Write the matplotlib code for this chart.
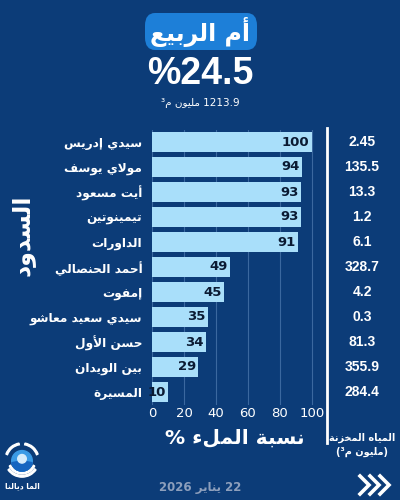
import numpy as np
import matplotlib
matplotlib.use("Agg")
import matplotlib.pyplot as plt
from matplotlib.patches import FancyBboxPatch, Circle, Wedge
from matplotlib.lines import Line2D
import matplotlib.transforms as mtransforms

# Data
dam_names = ['سيدي إدريس', 'مولاي يوسف', 'أيت مسعود', 'تيمينوتين', 'الداورات',
             'أحمد الحنصالي', 'إمفوت', 'سيدي سعيد معاشو', 'حسن الأول',
             'بين الويدان', 'المسيرة']
fill_pct = [100, 94, 93, 93, 91, 49, 45, 35, 34, 29, 10]
stored_mm3 = ['2.45', '135.5', '13.3', '1.2', '6.1', '328.7', '4.2', '0.3',
              '81.3', '355.9', '284.4']
x_ticks = [0, 20, 40, 60, 80, 100]
basin_name = 'أم الربيع'
basin_pct = '24.5'
basin_volume = '1213.9'
date_day, date_month, date_year = '22', 'يناير', '2026'

BG = '#0c3c78'
BAR = '#a9dffa'
GRID = '#3b689f'
TITLE_BOX = '#1d7fd8'

# Arabic shaping (presentation forms) since matplotlib has no bidi/shaping
FORMS = {}
for ch, code in [('ء', 0xFE80)]:
    FORMS[ch] = (chr(code), None, None, None)
for ch, code in [('آ', 0xFE81), ('أ', 0xFE83), ('ؤ', 0xFE85), ('إ', 0xFE87),
                 ('ا', 0xFE8D), ('ة', 0xFE93), ('د', 0xFEA9), ('ذ', 0xFEAB),
                 ('ر', 0xFEAD), ('ز', 0xFEAF), ('و', 0xFEED), ('ى', 0xFEEF)]:
    FORMS[ch] = (chr(code), chr(code + 1), None, None)
for ch, code in [('ئ', 0xFE89), ('ب', 0xFE8F), ('ت', 0xFE95), ('ث', 0xFE99),
                 ('ج', 0xFE9D), ('ح', 0xFEA1), ('خ', 0xFEA5), ('س', 0xFEB1),
                 ('ش', 0xFEB5), ('ص', 0xFEB9), ('ض', 0xFEBD), ('ط', 0xFEC1),
                 ('ظ', 0xFEC5), ('ع', 0xFEC9), ('غ', 0xFECD), ('ف', 0xFED1),
                 ('ق', 0xFED5), ('ك', 0xFED9), ('ل', 0xFEDD), ('م', 0xFEE1),
                 ('ن', 0xFEE5), ('ه', 0xFEE9), ('ي', 0xFEF1)]:
    FORMS[ch] = tuple(chr(code + k) for k in range(4))
LAMALEF = {'آ': ('\uFEF5', '\uFEF6'), 'أ': ('\uFEF7', '\uFEF8'),
           'إ': ('\uFEF9', '\uFEFA'), 'ا': ('\uFEFB', '\uFEFC')}


def ar(text):
    chars = list(text)
    out = []
    i = 0
    while i < len(chars):
        c = chars[i]
        if c not in FORMS:
            out.append(c)
            i += 1
            continue
        prev = chars[i - 1] if i > 0 else None
        prev_joins = prev in FORMS and FORMS[prev][2] is not None
        if c == 'ل' and i + 1 < len(chars) and chars[i + 1] in LAMALEF:
            iso, fin = LAMALEF[chars[i + 1]]
            out.append(fin if prev_joins else iso)
            i += 2
            continue
        iso, fin, ini, med = FORMS[c]
        nxt = chars[i + 1] if i + 1 < len(chars) else None
        next_joins = ini is not None and nxt in FORMS and FORMS[nxt][1] is not None
        if fin is None:
            prev_joins = False
        if prev_joins and next_joins:
            out.append(med)
        elif prev_joins:
            out.append(fin)
        elif next_joins:
            out.append(ini)
        else:
            out.append(iso)
        i += 1
    return ''.join(reversed(out))


plt.rcParams['font.family'] = ['DejaVu Sans']

fig = plt.figure(figsize=(4, 5), dpi=100, facecolor=BG)

# Title block
fig.patches.append(FancyBboxPatch((145 / 400, 1 - 50 / 500), 112 / 400, 37 / 500,
                                  boxstyle='round,pad=0,rounding_size=0.025',
                                  transform=fig.transFigure, facecolor=TITLE_BOX,
                                  edgecolor='none'))
fig.text(0.5, 1 - 32 / 500, ar(basin_name), color='white', fontsize=17,
         fontweight='bold', ha='center', va='center')
fig.text(0.5, 1 - 74 / 500, '%' + basin_pct, color='white', fontsize=27,
         fontweight='bold', ha='center', va='center', family='Liberation Sans')
fig.text(0.5, 1 - 103 / 500, '³' + ar('م') + ' ' + ar('مليون') + ' ' + basin_volume,
         color='white', fontsize=7.5, ha='center', va='center')

# Bar chart
ax = fig.add_axes([152 / 400, 1 - 404.5 / 500, 163.2 / 400, 275 / 500])
ax.set_facecolor(BG)
y = np.arange(len(dam_names))
ax.barh(y, fill_pct, height=0.8, color=BAR, zorder=3)
for yi, v in zip(y, fill_pct):
    ax.text(v - 1.5, yi, str(v), ha='right', va='center', color='#0b1b33',
            fontsize=9.5, fontweight='bold', zorder=4)
ax.set_xlim(0, 102)
ax.set_ylim(len(dam_names) - 0.5, -0.5)
ax.set_yticks(y, [ar(n) for n in dam_names])
ax.set_xticks(x_ticks, [str(t) for t in x_ticks])
ax.tick_params(axis='y', length=0, pad=7, colors='white', labelsize=8.7)
ax.tick_params(axis='x', length=0, pad=2, colors='white', labelsize=9.5)
for lab in ax.get_yticklabels():
    lab.set_fontweight('bold')
ax.xaxis.grid(True, color=GRID, lw=0.8, zorder=0)
ax.set_axisbelow(True)
for s in ax.spines.values():
    s.set_visible(False)

# Stored water column
tr = mtransforms.blended_transform_factory(fig.transFigure, ax.transData)
for yi, s in zip(y, stored_mm3):
    ax.text(362 / 400, yi, s, transform=tr, ha='center', va='center',
            color='white', fontsize=10, fontweight='bold', family='Liberation Sans')
fig.add_artist(Line2D([327 / 400, 327 / 400], [1 - 128 / 500, 1 - 443 / 500],
                      color='white', lw=2, transform=fig.transFigure))
fig.text(362 / 400, 1 - 438 / 500, ar('المياه المخزنة'), color='white', fontsize=7,
         fontweight='bold', ha='center', va='center')
fig.text(362 / 400, 1 - 452 / 500, '(³' + ar('م') + ' ' + ar('مليون') + ')',
         color='white', fontsize=7, fontweight='bold', ha='center', va='center')

# Axis titles
fig.text(235 / 400, 1 - 438 / 500, '% ' + ar('نسبة الملء'), color='white',
         fontsize=14.5, fontweight='bold', ha='center', va='center')
fig.text(22 / 400, 1 - 235 / 500, ar('السدود'), color='white', fontsize=17,
         fontweight='bold', ha='center', va='center', rotation=90)

# Footer
fig.text(200 / 400, 1 - 488 / 500, date_year + ' ' + ar(date_month) + ' ' + date_day,
         color='#8d9fbc', fontsize=8.5, fontweight='bold', ha='center', va='center')
for k in range(3):
    x0 = (360 + k * 10) / 400
    fig.add_artist(Line2D([x0, x0 + 9 / 400, x0], [1 - 476 / 500, 1 - 485 / 500, 1 - 494 / 500],
                          color='white', lw=2.6, transform=fig.transFigure,
                          solid_joinstyle='miter'))

# Logo
lax = fig.add_axes([0 / 400, 1 - 478 / 500, 44 / 400, 36 / 500])
lax.set_xlim(-1.2, 1.2)
lax.set_ylim(-1.0, 1.1)
lax.set_aspect('equal')
lax.axis('off')
lax.add_patch(Wedge((0, 0.05), 1.0, 215, 325, width=0.1, color='white'))
lax.add_patch(Wedge((0, 0.05), 0.82, 205, 335, width=0.09, color='white'))
lax.add_patch(Wedge((0, 0.05), 1.0, 100, 160, width=0.1, color='white'))
lax.add_patch(Wedge((0, 0.05), 1.0, 20, 80, width=0.1, color='white'))
lax.add_patch(Circle((0, 0.0), 0.6, color='#3b9be6'))
lax.add_patch(Wedge((0, 0.0), 0.6, 190, 350, color='#1565c0'))
lax.add_patch(Circle((0, 0.12), 0.25, color='#d6ecfb'))
fig.text(22 / 400, 1 - 486 / 500, ar('الما ديالنا'), color='white', fontsize=5.5,
         fontweight='bold', ha='center', va='center')

fig.savefig('out.png', dpi=100, facecolor=BG)
